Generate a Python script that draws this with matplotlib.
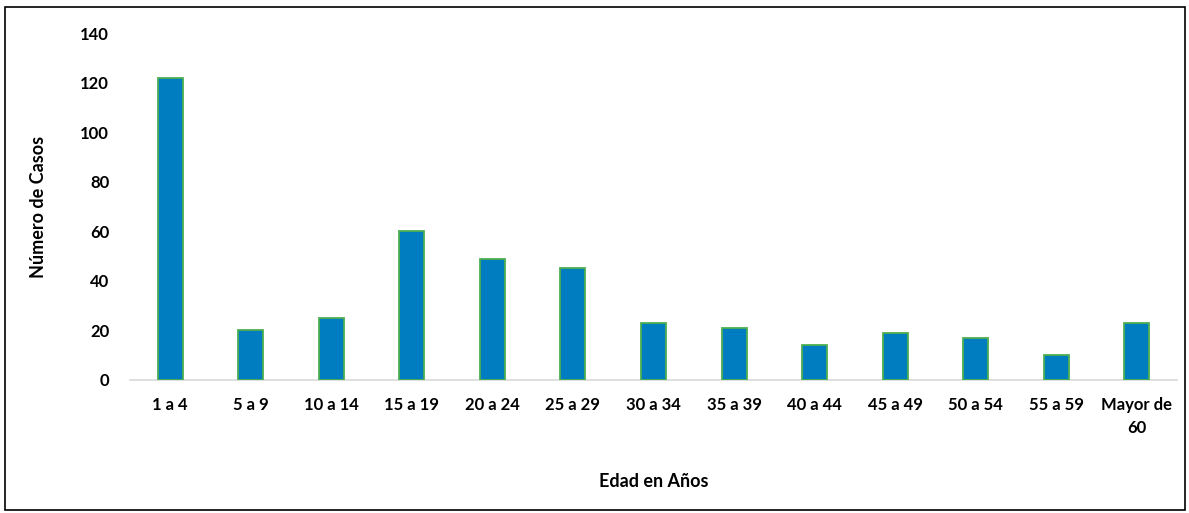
import matplotlib.pyplot as plt
from matplotlib.patches import Rectangle

# datos
grupos = ["1 a 4", "5 a 9", "10 a 14", "15 a 19", "20 a 24", "25 a 29", "30 a 34",
          "35 a 39", "40 a 44", "45 a 49", "50 a 54", "55 a 59", "Mayor de\n60"]
casos = [122, 20, 25, 60, 49, 45, 23, 21, 14, 19, 17, 10, 23]
yticks = [0, 20, 40, 60, 80, 100, 120, 140]

plt.rcParams['font.family'] = ['Lato', 'DejaVu Sans']

fig = plt.figure(figsize=(11.89, 5.13), dpi=100)
ax = fig.add_axes([130 / 1189, 133 / 513, 1047 / 1189, 347 / 513])

x = range(len(grupos))
ax.bar(x, casos, width=0.31, color="#007DC1", edgecolor="#4CAF50", linewidth=1.3, zorder=3)

ax.set_xlim(-0.5, len(grupos) - 0.5)
ax.set_ylim(0, 140)
ax.set_yticks(yticks)
ax.set_xticks(list(x))
ax.set_xticklabels(grupos, fontsize=12, fontweight="bold", linespacing=1.6)
ax.set_yticklabels([str(v) for v in yticks], fontsize=12, fontweight="bold")
ax.tick_params(length=0, pad=12)
ax.tick_params(axis="y", pad=15)

for s in ["top", "right", "left"]:
    ax.spines[s].set_visible(False)
ax.spines["bottom"].set_color("#D9D9D9")
ax.spines["bottom"].set_linewidth(1.2)

ax.set_xlabel("Edad en Años", fontsize=13, fontweight="bold", labelpad=26)
ax.set_ylabel("Número de Casos", fontsize=13, fontweight="bold", labelpad=24)

# marco del gráfico
fig.patches.append(Rectangle((5 / 1189, 3 / 513), 1180 / 1189, 503 / 513, transform=fig.transFigure,
                             fill=False, edgecolor="black", linewidth=1.2))

fig.savefig("out.png", dpi=100)
